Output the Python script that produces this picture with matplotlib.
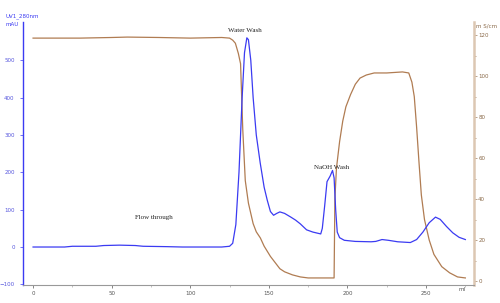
import matplotlib
matplotlib.use("Agg")
import matplotlib.pyplot as plt
from matplotlib.ticker import MultipleLocator

# UV absorbance (mAU) vs volume (ml)
uv_ml = [0, 20, 25, 40, 45, 55, 65, 70, 85, 95, 120, 125, 127, 129, 131, 133, 134.5, 136, 137,
         138.5, 140, 142, 144.5, 147, 149, 151, 153, 155, 157, 160, 164, 167, 170, 174, 178, 183,
         184, 185.5, 187, 189, 190.5, 191.5, 192.5, 193.5, 195, 198, 205, 215, 218, 222, 226, 232,
         240, 244, 248, 252, 256, 259, 263, 267, 271, 275]
uv_mau = [0, 0, 2, 2, 4, 5, 4, 2, 1, 0, 0, 2, 10, 60, 200, 400, 520, 560, 555,
          500, 400, 300, 225, 160, 125, 95, 85, 90, 94, 90, 80, 72, 62, 46, 40, 35,
          50, 110, 175, 190, 205, 185, 100, 40, 25, 18, 15, 14, 15, 20, 18, 14,
          12, 20, 40, 65, 80, 74, 55, 38, 26, 20]

# Conductivity (mS/cm) vs volume (ml)
cond_ml = [0, 30, 50, 60, 80, 100, 120, 125, 127, 128.7, 130.6, 132, 133.4, 135, 137, 140, 142,
           144.6, 147, 151, 154, 157, 160, 165, 170, 175, 190, 191.5, 192, 193, 195, 197, 199, 202,
           205, 208, 212, 217, 225, 235, 239, 241, 242.5, 244, 245.5, 247, 249, 252, 255, 260, 265,
           270, 275]
cond_ms = [118.5, 118.5, 118.8, 119, 118.8, 118.5, 118.8, 118.5, 117.5, 116, 111, 106, 74, 49, 38, 28,
           24, 21, 17, 12, 9, 6, 4.5, 3, 2, 1.5, 1.5, 1.5, 40, 55, 68, 78, 85, 91,
           96, 99, 100.5, 101.5, 101.5, 102, 101.5, 97, 90, 75, 58, 42, 30, 20, 13, 7, 4,
           2, 1.5]

uv_ticks = [-100, 0, 100, 200, 300, 400, 500]
cond_ticks = [0, 20, 40, 60, 80, 100, 120]
x_ticks = [0, 50, 100, 150, 200, 250]

annotations = [("Water Wash", 135, 580), ("NaOH Wash", 190, 212), ("Flow through", 77, 78)]

blue = "#3b3bf2"
brown = "#b07c52"
tan = "#dcc7b2"

fig = plt.figure(figsize=(5.0, 3.03), dpi=100)
ax = fig.add_axes([0.046, 0.059, 0.902, 0.868])
ax2 = ax.twinx()

ax.plot(uv_ml, uv_mau, color=blue, lw=0.9, zorder=3)
ax2.plot(cond_ml, cond_ms, color=brown, lw=0.9)
ax.set_zorder(ax2.get_zorder() + 1)
ax.patch.set_visible(False)

ax.set_xlim(-6.4, 280.5)
ax.set_ylim(-102, 602)
ax2.set_ylim(-2, 126.3)

for a in (ax, ax2):
    a.spines["top"].set_visible(False)
ax.spines["left"].set_color(blue)
ax.spines["left"].set_linewidth(1.0)
ax.spines["right"].set_visible(False)
ax2.spines["left"].set_visible(False)
ax2.spines["bottom"].set_visible(False)
ax2.spines["right"].set_color(tan)
ax2.spines["right"].set_linewidth(1.8)
ax.spines["bottom"].set_color("#999999")
ax.spines["bottom"].set_linewidth(0.8)

ax.set_xticks(x_ticks)
ax.xaxis.set_minor_locator(MultipleLocator(25))
ax.set_yticks(uv_ticks)
ax2.set_yticks(cond_ticks)
ax2.yaxis.set_minor_locator(MultipleLocator(10))

ax.tick_params(axis="x", labelsize=4, colors="#555555", length=2, width=0.5, pad=2)
ax.tick_params(axis="x", which="minor", length=1.5, width=0.5, colors="#aaaaaa")
ax.tick_params(axis="y", labelsize=4, colors=blue, labelcolor="#5555dd", length=2, width=0.5, pad=4)
ax2.tick_params(axis="y", labelsize=4, colors="#a08060", labelcolor="#8a6a4a", length=2, width=0.5, pad=1)
ax2.tick_params(axis="y", which="minor", length=1.5, width=0.5, colors="#a08060")

fig.text(0.012, 0.947, "UV1_280nm", fontsize=4, color=blue, ha="left", va="center")
fig.text(0.012, 0.918, "mAU", fontsize=4, color=blue, ha="left", va="center")
fig.text(0.952, 0.914, "m S/cm", fontsize=4, color="#8a6a4a", ha="left", va="center")
fig.text(0.924, 0.043, "ml", fontsize=4, color="#555555", ha="center", va="center")

for label, xv, yv in annotations:
    ax.text(xv, yv, label, fontsize=5, family="Liberation Serif", color="#222222", ha="center", va="center")

fig.savefig("out.png", dpi=100)
